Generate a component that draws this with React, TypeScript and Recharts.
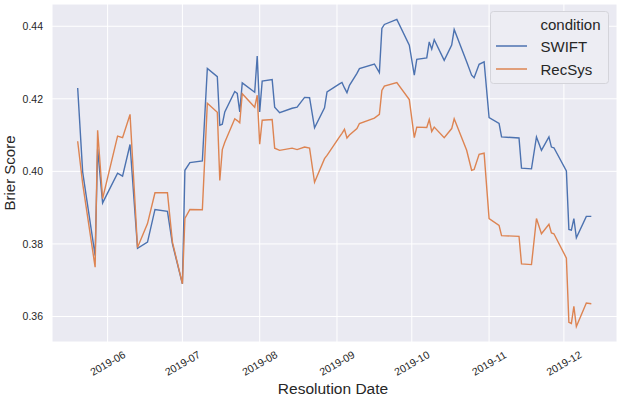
import React from "react"
import {
  LineChart,
  Line,
  XAxis,
  YAxis,
  CartesianGrid,
  Label,
} from "recharts"

// resolution dates shared by both conditions
const dates = [
  "2019-05-20", "2019-05-22", "2019-05-27", "2019-05-28", "2019-05-30",
  "2019-06-05", "2019-06-07", "2019-06-10", "2019-06-13", "2019-06-17",
  "2019-06-20", "2019-06-25", "2019-06-27", "2019-07-01", "2019-07-02",
  "2019-07-04", "2019-07-09", "2019-07-11", "2019-07-15", "2019-07-16",
  "2019-07-17", "2019-07-18", "2019-07-22", "2019-07-23", "2019-07-24",
  "2019-07-25", "2019-07-30", "2019-07-31", "2019-08-01", "2019-08-02",
  "2019-08-06", "2019-08-07", "2019-08-09", "2019-08-14", "2019-08-16",
  "2019-08-19", "2019-08-21", "2019-08-23", "2019-08-27", "2019-08-28",
  "2019-09-02", "2019-09-03", "2019-09-04", "2019-09-05", "2019-09-06",
  "2019-09-09", "2019-09-10", "2019-09-16", "2019-09-18", "2019-09-19",
  "2019-09-20", "2019-09-25", "2019-09-30", "2019-10-02", "2019-10-03",
  "2019-10-07", "2019-10-08", "2019-10-09", "2019-10-10", "2019-10-14",
  "2019-10-17", "2019-10-18", "2019-10-23", "2019-10-25", "2019-10-26",
  "2019-10-28", "2019-10-30", "2019-11-01", "2019-11-05", "2019-11-06",
  "2019-11-13", "2019-11-14", "2019-11-18", "2019-11-20", "2019-11-22",
  "2019-11-25", "2019-11-26", "2019-11-27", "2019-12-02", "2019-12-03",
  "2019-12-04", "2019-12-05", "2019-12-06", "2019-12-10", "2019-12-12",
]

const swift = [
  0.4230, 0.3998, 0.3768, 0.4062, 0.3913,
  0.3995, 0.3987, 0.4074, 0.3788, 0.3805,
  0.3895, 0.3890, 0.3800, 0.3690, 0.4003,
  0.4024, 0.4029, 0.4284, 0.4261, 0.4127,
  0.4130, 0.4164, 0.4220, 0.4215, 0.4164,
  0.4244, 0.4218, 0.4318, 0.4164, 0.4249,
  0.4253, 0.4177, 0.4162, 0.4174, 0.4177,
  0.4204, 0.4203, 0.4120, 0.4175, 0.4219,
  0.4241, 0.4245, 0.4230, 0.4217, 0.4237,
  0.4270, 0.4283, 0.4296, 0.4272, 0.4394,
  0.4405, 0.4419, 0.4348, 0.4265, 0.4309,
  0.4313, 0.4357, 0.4337, 0.4363, 0.4306,
  0.4348, 0.4391, 0.4302, 0.4265, 0.4258,
  0.4295, 0.4302, 0.4148, 0.4132, 0.4095,
  0.4092, 0.4009, 0.4007, 0.4095, 0.4058,
  0.4095, 0.4067, 0.4065, 0.4001, 0.3840,
  0.3838, 0.3870, 0.3817, 0.3876, 0.3876,
]

const recsys = [
  0.4083, 0.3966, 0.3736, 0.4113, 0.3925,
  0.4097, 0.4093, 0.4157, 0.3790, 0.3856,
  0.3941, 0.3941, 0.3805, 0.3690, 0.3870,
  0.3895, 0.3894, 0.4188, 0.4163, 0.3975,
  0.4060, 0.4080, 0.4145, 0.4140, 0.4134,
  0.4214, 0.4177, 0.4210, 0.4075, 0.4141,
  0.4143, 0.4064, 0.4058, 0.4064, 0.4060,
  0.4067, 0.4064, 0.3970, 0.4035, 0.4044,
  0.4095, 0.4105, 0.4116, 0.4092, 0.4100,
  0.4118, 0.4132, 0.4147, 0.4157, 0.4223,
  0.4235, 0.4245, 0.4198, 0.4093, 0.4122,
  0.4121, 0.4143, 0.4110, 0.4122, 0.4093,
  0.4118, 0.4145, 0.4058, 0.4003, 0.4005,
  0.4047, 0.4050, 0.3870, 0.3851, 0.3823,
  0.3821, 0.3745, 0.3743, 0.3870, 0.3828,
  0.3854, 0.3830, 0.3828, 0.3761, 0.3584,
  0.3581, 0.3628, 0.3572, 0.3637, 0.3635,
]

const monthTicks = [
  "2019-06-01", "2019-07-01", "2019-08-01", "2019-09-01",
  "2019-10-01", "2019-11-01", "2019-12-01",
]
const yTicks = [0.36, 0.38, 0.4, 0.42, 0.44]

const SERIES = [
  { key: "SWIFT", color: "#4C72B0" },
  { key: "RecSys", color: "#DD8452" },
]

const FONT = "'Liberation Sans', Arial, sans-serif"
const INK = "#262626"

const data = dates.map((d, i) => ({
  t: Date.parse(d),
  SWIFT: swift[i],
  RecSys: recsys[i],
}))

// matplotlib style 5% padding around the data
function padded(lo: number, hi: number): [number, number] {
  const p = (hi - lo) * 0.05
  return [lo - p, hi + p]
}
const xDomain = padded(data[0].t, data[data.length - 1].t)
const allVals = [...swift, ...recsys]
const yDomain = padded(Math.min(...allVals), Math.max(...allVals))

function DateTick(props: any) {
  const { x, y, payload } = props
  const d = new Date(payload.value)
  const label = `${d.getUTCFullYear()}-${String(d.getUTCMonth() + 1).padStart(2, "0")}`
  const cy = y + 21
  return (
    <text
      x={x}
      y={cy}
      textAnchor="middle"
      dominantBaseline="central"
      transform={`rotate(-30, ${x}, ${cy})`}
      fill={INK}
      fontSize={10.5}
      fontFamily={FONT}
    >
      {label}
    </text>
  )
}

// seaborn-like legend box, drawn over the top right of the plot
function LegendBox() {
  return (
    <svg
      width={120}
      height={74}
      style={{ position: "absolute", left: 490, top: 11, display: "block" }}
    >
      <rect
        x={0.5}
        y={0.5}
        width={118}
        height={72}
        rx={3}
        fill="#EDEDF3"
        stroke="#D4D4DA"
      />
      <text x={50.5} y={18.5} fontSize={15} fill={INK} fontFamily={FONT}>
        condition
      </text>
      {SERIES.map((s, i) => (
        <g key={s.key}>
          <line
            x1={6}
            x2={37}
            y1={35 + i * 23}
            y2={35 + i * 23}
            stroke={s.color}
            strokeWidth={1.5}
          />
          <text
            x={50.5}
            y={40.5 + i * 23}
            fontSize={15}
            fill={INK}
            fontFamily={FONT}
          >
            {s.key}
          </text>
        </g>
      ))}
    </svg>
  )
}

export default function App() {
  return (
    <div
      style={{
        position: "fixed",
        left: 0,
        top: 0,
        width: 622,
        height: 402,
        background: "#fff",
      }}
    >
      <LineChart
        width={622}
        height={402}
        data={data}
        margin={{ top: 4, right: 5, bottom: 0, left: 0 }}
        style={{ fontFamily: FONT }}
      >
        <CartesianGrid
          fill="#EAEAF2"
          stroke="#FFFFFF"
          strokeWidth={1}
        />
        <XAxis
          dataKey="t"
          type="number"
          domain={xDomain}
          ticks={monthTicks.map((m) => Date.parse(m))}
          tick={<DateTick />}
          tickLine={false}
          axisLine={false}
          tickSize={0}
          tickMargin={0}
          height={60}
          interval={0}
        >
          <Label
            content={() => (
              <text
                x={333}
                y={394}
                textAnchor="middle"
                fontSize={15.5}
                fill={INK}
                fontFamily={FONT}
              >
                Resolution Date
              </text>
            )}
          />
        </XAxis>
        <YAxis
          type="number"
          domain={yDomain}
          ticks={yTicks}
          tickFormatter={(v: number) => v.toFixed(2)}
          tick={{ fill: INK, fontSize: 10.5, fontFamily: FONT }}
          tickLine={false}
          axisLine={false}
          tickSize={6}
          tickMargin={3}
          width={52}
          interval={0}
        >
          <Label
            content={() => (
              <text
                x={15}
                y={173}
                textAnchor="middle"
                transform="rotate(-90, 15, 173)"
                fontSize={15}
                fill={INK}
                fontFamily={FONT}
              >
                Brier Score
              </text>
            )}
          />
        </YAxis>
        {SERIES.map((s) => (
          <Line
            key={s.key}
            type="linear"
            dataKey={s.key}
            stroke={s.color}
            strokeWidth={1.4}
            dot={false}
            activeDot={false}
            isAnimationActive={false}
          />
        ))}
      </LineChart>
      <LegendBox />
    </div>
  )
}
